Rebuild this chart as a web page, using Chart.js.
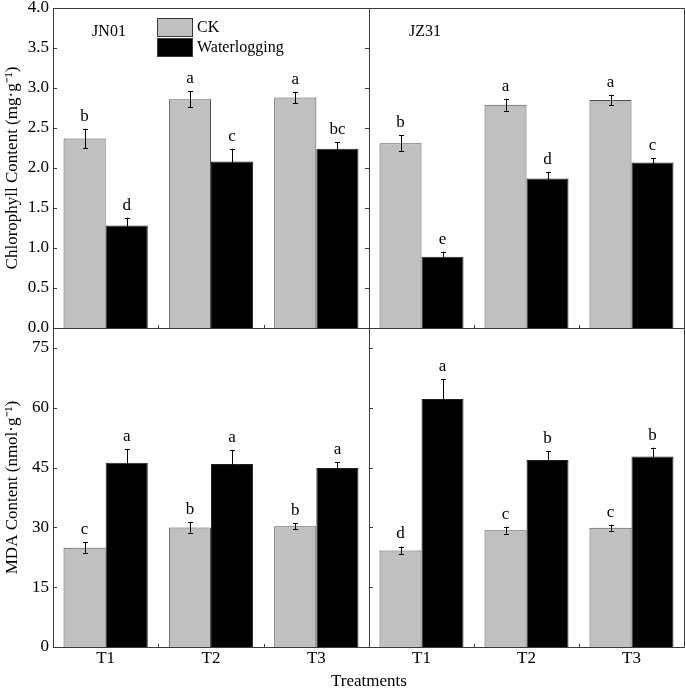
<!DOCTYPE html>
<html>
<head>
<meta charset="utf-8">
<script src="https://cdn.jsdelivr.net/npm/chart.js"></script>
<style>
  body { margin: 0; background: #fff; }
  canvas { position: absolute; left: 0; top: 0; }
  #xtitle {
    position: absolute; left: 53px; width: 632px; top: 671px;
    text-align: center; font: 17px "Liberation Serif", serif; color: #000;
  }
</style>
</head>
<body>
<canvas id="tl" width="685" height="692"></canvas>
<canvas id="tr" width="685" height="692"></canvas>
<canvas id="bl" width="685" height="692"></canvas>
<canvas id="br" width="685" height="692"></canvas>
<div id="xtitle">Treatments</div>
<script>
// data
var treatments = ["T1", "T2", "T3"];
var seriesNames = ["CK", "Waterlogging"];
var chlTicks = [0, 0.5, 1.0, 1.5, 2.0, 2.5, 3.0, 3.5, 4.0];
var mdaTicks = [0, 15, 30, 45, 60, 75];

// chlorophyll, JN01
var chlJN01CK = [2.37, 2.86, 2.88];
var chlJN01CKErr = [0.12, 0.10, 0.07];
var chlJN01CKLet = ["b", "a", "a"];
var chlJN01WL = [1.28, 2.08, 2.24];
var chlJN01WLErr = [0.10, 0.16, 0.08];
var chlJN01WLLet = ["d", "c", "bc"];
// chlorophyll, JZ31
var chlJZ31CK = [2.31, 2.79, 2.85];
var chlJZ31CKErr = [0.10, 0.075, 0.065];
var chlJZ31CKLet = ["b", "a", "a"];
var chlJZ31WL = [0.89, 1.87, 2.07];
var chlJZ31WLErr = [0.065, 0.08, 0.055];
var chlJZ31WLLet = ["e", "d", "c"];
// MDA, JN01
var mdaJN01CK = [24.9, 30.0, 30.3];
var mdaJN01CKErr = [1.4, 1.3, 0.8];
var mdaJN01CKLet = ["c", "b", "b"];
var mdaJN01WL = [46.2, 45.9, 44.9];
var mdaJN01WLErr = [3.4, 3.5, 1.5];
var mdaJN01WLLet = ["a", "a", "a"];
// MDA, JZ31
var mdaJZ31CK = [24.2, 29.3, 29.9];
var mdaJZ31CKErr = [1.0, 0.85, 0.75];
var mdaJZ31CKLet = ["d", "c", "c"];
var mdaJZ31WL = [62.2, 46.9, 47.8];
var mdaJZ31WLErr = [5.0, 2.2, 2.2];
var mdaJZ31WLLet = ["a", "b", "b"];

Chart.defaults.font.family = '"Liberation Serif", "Times New Roman", serif';
Chart.defaults.font.size = 17;
Chart.defaults.color = "#000";

var frameColor = "#3a3a3a";

// frame, inward ticks, error bars, letters, legend, panel label
var panelPlugin = {
  id: "panel",
  afterDatasetsDraw: function (chart, args, opts) {
    var ctx = chart.ctx;
    var a = chart.chartArea;
    var xs = chart.scales.x;
    var ys = chart.scales.y;
    ctx.save();

    // error bars and significance letters
    ctx.strokeStyle = "#000";
    ctx.lineWidth = 1;
    ctx.fillStyle = "#000";
    ctx.font = '17px "Liberation Serif", serif';
    ctx.textAlign = "center";
    ctx.textBaseline = "bottom";
    chart.data.datasets.forEach(function (ds, di) {
      chart.getDatasetMeta(di).data.forEach(function (bar, i) {
        var cx = Math.round(bar.x) + 0.5;
        var yTop = ys.getPixelForValue(ds.data[i] + ds.err[i]);
        var yBot = ys.getPixelForValue(ds.data[i] - ds.err[i]);
        ctx.beginPath();
        ctx.moveTo(cx, yTop);
        ctx.lineTo(cx, yBot);
        ctx.moveTo(cx - 2.5, Math.round(yTop) + 0.5);
        ctx.lineTo(cx + 2.5, Math.round(yTop) + 0.5);
        ctx.moveTo(cx - 2.5, Math.round(yBot) + 0.5);
        ctx.lineTo(cx + 2.5, Math.round(yBot) + 0.5);
        ctx.stroke();
        ctx.fillText(ds.letters[i], bar.x, yTop - 4);
      });
    });

    // frame
    ctx.strokeStyle = frameColor;
    ctx.beginPath();
    ctx.rect(a.left + 0.5, a.top + 0.5, a.right - a.left, a.bottom - a.top);
    ctx.stroke();

    // y ticks pointing inward
    ctx.beginPath();
    opts.ticks.forEach(function (v) {
      var py = Math.round(ys.getPixelForValue(v)) + 0.5;
      if (opts.leftTicks) {
        ctx.moveTo(a.left, py);
        ctx.lineTo(a.left + 4, py);
      }
      if (opts.rightTicks) {
        ctx.moveTo(a.right, py);
        ctx.lineTo(a.right - 4, py);
      }
    });
    // x ticks between categories
    for (var i = 1; i < treatments.length; i++) {
      var px = Math.round((xs.getPixelForValue(i - 1) + xs.getPixelForValue(i)) / 2) + 0.5;
      ctx.moveTo(px, a.bottom);
      ctx.lineTo(px, a.bottom - 3);
    }
    ctx.stroke();

    // panel label
    ctx.font = '16px "Liberation Serif", serif';
    ctx.textAlign = "center";
    ctx.textBaseline = "middle";
    ctx.fillText(opts.label, a.left + 56, a.top + 24);

    // legend
    if (opts.legend) {
      chart.data.datasets.forEach(function (ds, di) {
        var bx = a.left + 104;
        var by = a.top + 10 + di * 20;
        ctx.fillStyle = ds.backgroundColor;
        ctx.fillRect(bx, by, 35, 18);
        ctx.strokeStyle = frameColor;
        ctx.strokeRect(bx + 0.5, by + 0.5, 35, 18);
        ctx.fillStyle = "#000";
        ctx.textAlign = "left";
        ctx.fillText(ds.label, bx + 40, by + 10);
      });
    }
    ctx.restore();
  }
};

function makePanel(id, ck, ckErr, ckLet, wl, wlErr, wlLet, o) {
  var xH = o.showX ? 30 : 0;
  var yW = o.showY ? 53 : 0;
  return new Chart(document.getElementById(id), {
    type: "bar",
    data: {
      labels: treatments,
      datasets: [
        {
          label: seriesNames[0],
          data: ck, err: ckErr, letters: ckLet,
          backgroundColor: "#c0c0c0",
          borderColor: "#505050",
          borderWidth: 1,
          barPercentage: 1.0,
          categoryPercentage: 0.8
        },
        {
          label: seriesNames[1],
          data: wl, err: wlErr, letters: wlLet,
          backgroundColor: "#000000",
          borderColor: "#202020",
          borderWidth: 1,
          barPercentage: 1.0,
          categoryPercentage: 0.8
        }
      ]
    },
    options: {
      responsive: false,
      animation: false,
      devicePixelRatio: 1,
      layout: {
        padding: {
          left: o.left - yW,
          top: o.top,
          right: 685 - o.right,
          bottom: 692 - o.bottom - xH
        }
      },
      plugins: {
        legend: { display: false },
        tooltip: { enabled: false },
        panel: {
          label: o.label, legend: o.legend, ticks: o.ticks,
          leftTicks: o.leftTicks, rightTicks: o.rightTicks
        }
      },
      scales: {
        x: {
          display: o.showX,
          grid: { display: false, drawTicks: false },
          border: { display: false },
          ticks: { padding: 1, font: { size: 17 } },
          afterFit: function (s) {
            s.height = xH;
            s.paddingLeft = 0;
            s.paddingRight = 0;
          }
        },
        y: {
          display: o.showY,
          min: 0,
          max: o.max,
          grid: { display: false, drawTicks: false },
          border: { display: false },
          title: {
            display: o.showY,
            text: o.title,
            font: { size: 17 },
            padding: { top: 2, bottom: 0 }
          },
          ticks: {
            padding: 4,
            font: { size: 17 },
            callback: o.fmt
          },
          afterBuildTicks: function (s) {
            s.ticks = o.ticks.map(function (v) { return { value: v }; });
          },
          afterFit: function (s) {
            s.width = yW;
            s.paddingTop = 0;
            s.paddingBottom = 0;
          }
        }
      }
    },
    plugins: [panelPlugin]
  });
}

var fmtChl = function (v) { return v.toFixed(1); };
var fmtMda = function (v) { return String(v); };

makePanel("tl", chlJN01CK, chlJN01CKErr, chlJN01CKLet, chlJN01WL, chlJN01WLErr, chlJN01WLLet, {
  left: 53, top: 8, right: 369, bottom: 328, max: 4.0, ticks: chlTicks, fmt: fmtChl,
  showY: true, showX: false, title: "Chlorophyll Content (mg\u00b7g\u207b\u00b9)",
  label: "JN01", legend: true, leftTicks: true, rightTicks: true
});
makePanel("tr", chlJZ31CK, chlJZ31CKErr, chlJZ31CKLet, chlJZ31WL, chlJZ31WLErr, chlJZ31WLLet, {
  left: 369, top: 8, right: 684, bottom: 328, max: 4.0, ticks: chlTicks, fmt: fmtChl,
  showY: false, showX: false, title: "",
  label: "JZ31", legend: false, leftTicks: false, rightTicks: false
});
makePanel("bl", mdaJN01CK, mdaJN01CKErr, mdaJN01CKLet, mdaJN01WL, mdaJN01WLErr, mdaJN01WLLet, {
  left: 53, top: 328, right: 369, bottom: 647, max: 80, ticks: mdaTicks, fmt: fmtMda,
  showY: true, showX: true, title: "MDA Content (nmol\u00b7g\u207b\u00b9)",
  label: "", legend: false, leftTicks: true, rightTicks: false
});
makePanel("br", mdaJZ31CK, mdaJZ31CKErr, mdaJZ31CKLet, mdaJZ31WL, mdaJZ31WLErr, mdaJZ31WLLet, {
  left: 369, top: 328, right: 684, bottom: 647, max: 80, ticks: mdaTicks, fmt: fmtMda,
  showY: false, showX: true, title: "",
  label: "", legend: false, leftTicks: true, rightTicks: false
});
</script>
</body>
</html>
